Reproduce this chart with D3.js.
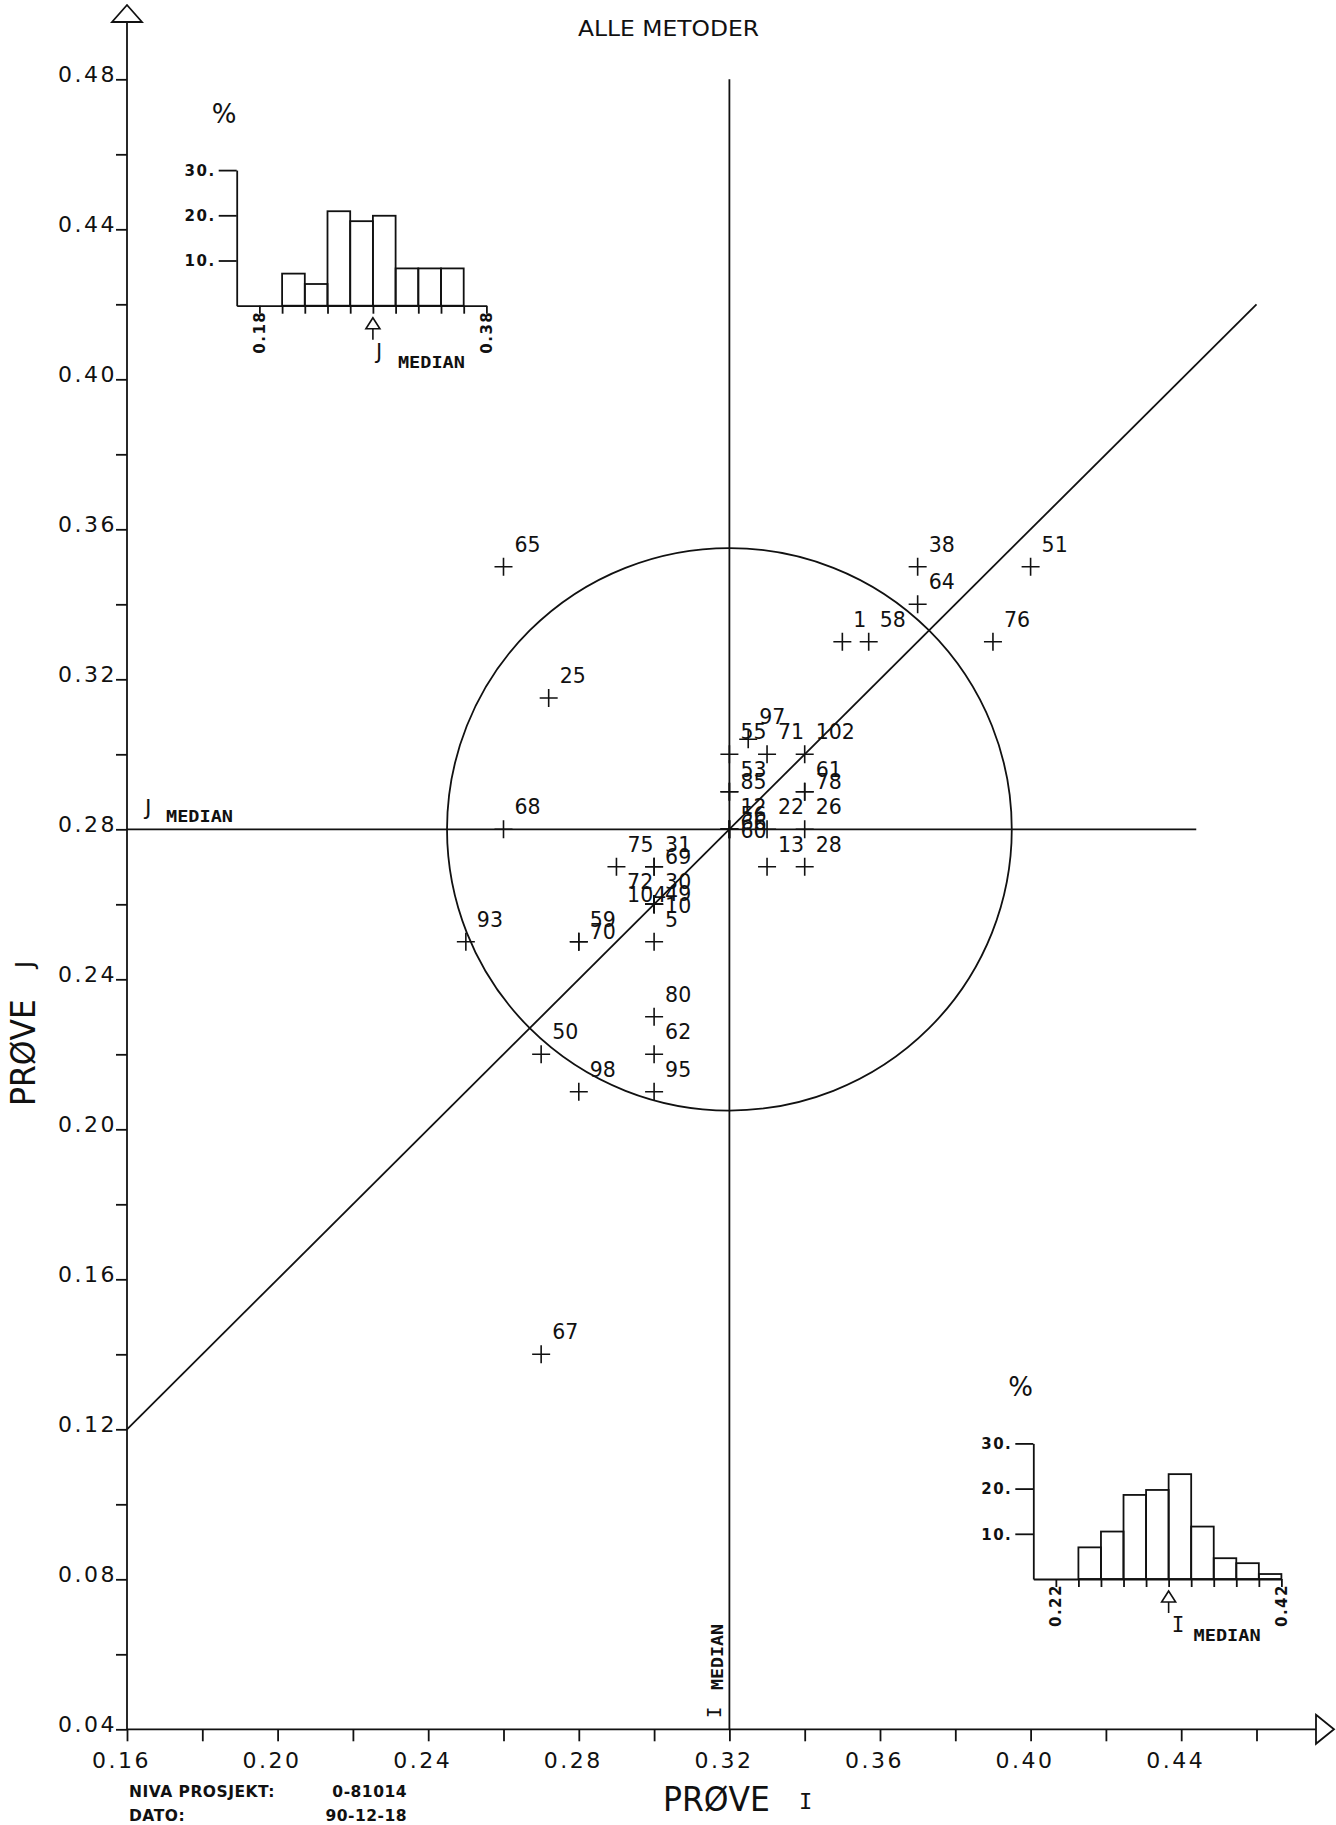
<!DOCTYPE html>
<html>
<head>
<meta charset="utf-8">
<script src="https://cdn.jsdelivr.net/npm/d3@7"></script>
<style>
  html,body{margin:0;padding:0;background:#fff;}
  svg{display:block;}
</style>
</head>
<body>
<svg id="chart" width="1336" height="1825"></svg>
<script>
// ---------------- DATA ----------------
const labNumbers = ["65","25","68","93","59","70","75","31","69","30","49","10","72","104","5","80","62","95","50","98","67",
                    "55","97","71","102","53","85","61","78","12","56","66","60","22","26","13","28","1","58","38","64","51","76"];
const proveI = [0.26,0.272,0.26,0.25,0.28,0.28,0.29,0.30,0.30,0.30,0.30,0.30,0.30,0.30,0.30,0.30,0.30,0.30,0.27,0.28,0.27,
                0.32,0.325,0.33,0.34,0.32,0.32,0.34,0.34,0.32,0.32,0.32,0.32,0.33,0.34,0.33,0.34,0.35,0.357,0.37,0.37,0.40,0.39];
const proveJ = [0.35,0.315,0.28,0.25,0.25,0.25,0.27,0.27,0.27,0.26,0.26,0.26,0.26,0.26,0.25,0.23,0.22,0.21,0.22,0.21,0.14,
                0.30,0.304,0.30,0.30,0.29,0.29,0.29,0.29,0.28,0.28,0.28,0.28,0.28,0.28,0.27,0.27,0.33,0.33,0.35,0.34,0.35,0.33];
const leftLabels = ["72","104"];          // labels written on the left side of their point

const medianI = 0.32;
const medianJ = 0.28;
const circleRadius = 0.075;

const xMajorTicks = [0.16,0.20,0.24,0.28,0.32,0.36,0.40,0.44];
const xMajorLabels = ["0.16","0.20","0.24","0.28","0.32","0.36","0.40","0.44"];
const xMinorTicks = [0.18,0.22,0.26,0.30,0.34,0.38,0.42,0.46];
const yMajorTicks = [0.04,0.08,0.12,0.16,0.20,0.24,0.28,0.32,0.36,0.40,0.44,0.48];
const yMajorLabels = ["0.04","0.08","0.12","0.16","0.20","0.24","0.28","0.32","0.36","0.40","0.44","0.48"];
const yMinorTicks = [0.06,0.10,0.14,0.18,0.22,0.26,0.30,0.34,0.38,0.42,0.46];

// histogram of sample J (top left)
const histJStart = [0.16,0.18,0.20,0.22,0.24,0.26,0.28,0.30,0.32,0.34,0.36];
const histJPct   = [0,0,7.1,4.8,20.9,18.7,19.9,8.25,8.25,8.25,0];
const histJTickVals = [0.18,0.38];
const histJTickLabels = ["0.18","0.38"];
// histogram of sample I (bottom right)
const histIStart = [0.20,0.22,0.24,0.26,0.28,0.30,0.32,0.34,0.36,0.38,0.40];
const histIPct   = [0,0,7.0,10.5,18.6,19.7,23.2,11.6,4.6,3.5,1.1];
const histITickVals = [0.22,0.42];
const histITickLabels = ["0.22","0.42"];
const pctTicks = [10,20,30];
const pctLabels = ["10.","20.","30."];

// ---------------- DRAWING ----------------
const SANS = "'DejaVu Sans', sans-serif";
const MONO = "'DejaVu Sans Mono', monospace";
const INK = "#111";
const SW = 1.8;
const svg = d3.select("#chart");

const x = d3.scaleLinear().domain([0.16, 0.48]).range([127, 127 + 0.32 * 3765]);
const y = d3.scaleLinear().domain([0.04, 0.48]).range([1729.3, 1729.3 - 0.44 * 3750]);
const X0 = x(0.16), Y0 = y(0.04);

function line(g, x1, y1, x2, y2, w) {
  return g.append("line").attr("x1", x1).attr("y1", y1).attr("x2", x2).attr("y2", y2)
    .attr("stroke", INK).attr("stroke-width", w || SW).attr("fill", "none");
}
function styleAxis(g) {
  g.attr("font-family", SANS).attr("fill", INK);
  g.selectAll("line").attr("stroke", INK).attr("stroke-width", SW);
  g.selectAll("path.domain").attr("stroke", INK).attr("stroke-width", SW);
  g.selectAll("text").attr("fill", INK);
}

// ---- main axes ----
line(svg, X0, Y0, 1316, Y0);
svg.append("path").attr("d", `M1316,${Y0 - 14.5}L1334,${Y0}L1316,${Y0 + 14.5}Z`)
  .attr("fill", "#fff").attr("stroke", INK).attr("stroke-width", SW);
line(svg, X0, Y0, X0, 22);
svg.append("path").attr("d", `M${X0 - 15},22L${X0},5L${X0 + 15},22Z`)
  .attr("fill", "#fff").attr("stroke", INK).attr("stroke-width", SW);

const gxMinor = svg.append("g").attr("transform", `translate(0,${Y0})`)
  .call(d3.axisBottom(x).tickValues(xMinorTicks).tickSize(12).tickFormat(""));
gxMinor.select(".domain").remove();
styleAxis(gxMinor);
const gxMajor = svg.append("g").attr("transform", `translate(0,${Y0})`)
  .call(d3.axisBottom(x).tickValues(xMajorTicks).tickSize(12).tickFormat((d, i) => xMajorLabels[i]));
gxMajor.select(".domain").remove();
styleAxis(gxMajor);
gxMajor.selectAll("text").attr("y", 39).attr("dy", 0).attr("x", -6)
  .attr("font-size", 22).attr("letter-spacing", 2.5).attr("text-anchor", "middle");

const gyMinor = svg.append("g").attr("transform", `translate(${X0},0)`)
  .call(d3.axisLeft(y).tickValues(yMinorTicks).tickSize(11).tickFormat(""));
gyMinor.select(".domain").remove();
styleAxis(gyMinor);
const gyMajor = svg.append("g").attr("transform", `translate(${X0},0)`)
  .call(d3.axisLeft(y).tickValues(yMajorTicks).tickSize(11).tickFormat((d, i) => yMajorLabels[i]));
gyMajor.select(".domain").remove();
styleAxis(gyMajor);
gyMajor.selectAll("text").attr("x", -10).attr("dy", 2)
  .attr("font-size", 22).attr("letter-spacing", 2.5).attr("text-anchor", "end");

// ---- median lines, circle, diagonal ----
line(svg, x(medianI), y(0.04), x(medianI), y(0.48));
line(svg, x(0.16), y(medianJ), x(0.444), y(medianJ));
line(svg, x(0.16), y(0.16 - (medianI - medianJ)), x(0.46), y(0.46 - (medianI - medianJ)));
svg.append("ellipse")
  .attr("cx", x(medianI)).attr("cy", y(medianJ))
  .attr("rx", x(medianI + circleRadius) - x(medianI))
  .attr("ry", y(medianJ) - y(medianJ + circleRadius))
  .attr("fill", "none").attr("stroke", INK).attr("stroke-width", SW);

// ---- points ----
const pts = labNumbers.map((lab, i) => ({ lab, i: proveI[i], j: proveJ[i], left: leftLabels.includes(lab) }));
const groups = d3.group(pts, d => `${d.i}|${d.j}|${d.left}`);
groups.forEach(arr => {
  const step = arr[0].left ? 13 : (arr.length >= 4 ? 8 : 11.7);
  arr.forEach((d, k) => { d.dx = d.left ? -27 : 11; d.dy = -15 + k * step; });
});
const cross = 9;
svg.append("g").selectAll("path").data(pts).join("path")
  .attr("d", d => `M${x(d.i) - cross},${y(d.j)}H${x(d.i) + cross}M${x(d.i)},${y(d.j) - cross}V${y(d.j) + cross}`)
  .attr("stroke", INK).attr("stroke-width", 1.6).attr("fill", "none");
svg.append("g").selectAll("text").data(pts).join("text")
  .attr("x", d => x(d.i) + d.dx).attr("y", d => y(d.j) + d.dy)
  .attr("font-family", SANS).attr("font-size", 20.5).attr("fill", INK)
  .text(d => d.lab);

// ---- text labels ----
svg.append("text").attr("x", 578).attr("y", 36).attr("font-family", SANS).attr("font-size", 21)
  .attr("fill", INK).attr("textLength", 181).attr("lengthAdjust", "spacingAndGlyphs").text("ALLE METODER");

svg.append("text").attr("x", 663).attr("y", 1811).attr("font-family", SANS).attr("font-size", 33)
  .attr("fill", INK).attr("textLength", 107).attr("lengthAdjust", "spacingAndGlyphs").text("PRØVE");
svg.append("text").attr("x", 799).attr("y", 1809).attr("font-family", MONO).attr("font-size", 22)
  .attr("fill", INK).text("I");

svg.append("text").attr("transform", "translate(35,1106) rotate(-90)").attr("font-family", SANS).attr("font-size", 33)
  .attr("fill", INK).attr("textLength", 107).attr("lengthAdjust", "spacingAndGlyphs").text("PRØVE");
svg.append("text").attr("transform", "translate(33,968) rotate(-90)").attr("font-family", SANS).attr("font-size", 24)
  .attr("fill", INK).text("J");

// J MEDIAN (main)
svg.append("text").attr("x", 145).attr("y", y(medianJ) - 14).attr("font-family", SANS).attr("font-size", 22)
  .attr("fill", INK).text("J");
svg.append("text").attr("x", 166).attr("y", y(medianJ) - 7).attr("font-family", MONO).attr("font-weight", "bold")
  .attr("font-size", 15).attr("fill", INK).attr("textLength", 67).attr("lengthAdjust", "spacingAndGlyphs").text("MEDIAN");
// I MEDIAN (main, rotated)
svg.append("text").attr("transform", `translate(${x(medianI) - 8},1718) rotate(-90)`).attr("font-family", MONO)
  .attr("font-size", 19).attr("fill", INK).text("I");
svg.append("text").attr("transform", `translate(${x(medianI) - 6},1690) rotate(-90)`).attr("font-family", MONO)
  .attr("font-weight", "bold").attr("font-size", 15).attr("fill", INK)
  .attr("textLength", 66).attr("lengthAdjust", "spacingAndGlyphs").text("MEDIAN");

// footer
const foot = [["NIVA PROSJEKT:", 129, 1797, "start"], ["0-81014", 407, 1797, "end"], ["DATO:", 129, 1821, "start"], ["90-12-18", 407, 1821, "end"]];
svg.append("g").selectAll("text").data(foot).join("text")
  .attr("x", d => d[1]).attr("y", d => d[2]).attr("text-anchor", d => d[3])
  .attr("font-family", SANS).attr("font-weight", "bold").attr("font-size", 15.5).attr("letter-spacing", 0.5).attr("fill", INK)
  .text(d => d[0]);

// ---- histograms ----
function drawHist(starts, pct, xr, y0, tickVals, tickLabels, medVal, letter) {
  const hx = d3.scaleLinear().domain([starts[0], starts[starts.length - 1] + 0.02]).range(xr);
  const hy = d3.scaleLinear().domain([0, 30]).range([y0, y0 - 3 * 45.2]);
  const g = svg.append("g");
  g.selectAll("rect").data(starts.map((s, i) => ({ s, p: pct[i] })).filter(d => d.p > 0)).join("rect")
    .attr("x", d => hx(d.s)).attr("width", d => hx(d.s + 0.02) - hx(d.s))
    .attr("y", d => hy(d.p)).attr("height", d => hy(0) - hy(d.p))
    .attr("fill", "none").attr("stroke", INK).attr("stroke-width", SW);
  const ay = g.append("g").attr("transform", `translate(${xr[0]},0)`)
    .call(d3.axisLeft(hy).tickValues(pctTicks).tickSize(18).tickSizeOuter(0).tickFormat((d, i) => pctLabels[i]));
  styleAxis(ay);
  ay.selectAll("text").attr("x", -21).attr("dy", "0.35em").attr("font-size", 15).attr("font-weight", "bold")
    .attr("letter-spacing", 1.5);
  const edges = starts.slice(1).concat([starts[starts.length - 1] + 0.02]);
  const ax = g.append("g").attr("transform", `translate(0,${y0})`)
    .call(d3.axisBottom(hx).tickValues(edges).tickSize(8).tickSizeOuter(0).tickFormat(""));
  styleAxis(ax);
  g.selectAll("text.tl").data(tickVals).join("text").attr("class", "tl")
    .attr("transform", d => `translate(${hx(d)},${y0 + 5}) rotate(-90)`)
    .attr("text-anchor", "end").attr("dy", "0.35em")
    .attr("font-family", SANS).attr("font-weight", "bold").attr("font-size", 15).attr("letter-spacing", 1.5)
    .attr("fill", INK).text((d, i) => tickLabels[i]);
  const mx = hx(medVal);
  g.append("path").attr("d", `M${mx},${y0 + 12}L${mx - 7},${y0 + 23}L${mx + 7},${y0 + 23}Z M${mx},${y0 + 23}V${y0 + 34}`)
    .attr("fill", "#fff").attr("stroke", INK).attr("stroke-width", 1.6);
  g.append("text").attr("x", xr[0] - 25).attr("y", y0 - 183).attr("font-family", SANS).attr("font-size", 26)
    .attr("fill", INK).text("%");
  g.append("text").attr("x", mx + 3).attr("y", y0 + 53).attr("font-family", letter === "I" ? MONO : SANS)
    .attr("font-size", 21).attr("fill", INK).text(letter);
  g.append("text").attr("x", mx + 25).attr("y", y0 + 62).attr("font-family", MONO).attr("font-weight", "bold")
    .attr("font-size", 15).attr("fill", INK).attr("textLength", 67).attr("lengthAdjust", "spacingAndGlyphs").text("MEDIAN");
}
drawHist(histJStart, histJPct, [236.7, 486.4], 305.7, histJTickVals, histJTickLabels, medianJ, "J");
drawHist(histIStart, histIPct, [1033.3, 1281.4], 1579, histITickVals, histITickLabels, medianI, "I");
</script>
</body>
</html>
